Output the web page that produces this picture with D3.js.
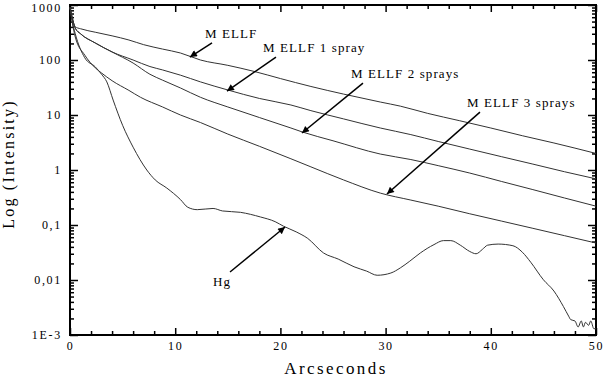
<html>
<head>
<script src="https://d3js.org/d3.v7.min.js"></script>
<style>
  body { margin: 0; background: white; }
  svg { display: block; }
  text { font-family: "Liberation Serif", "Times New Roman", serif; fill: #000; }
</style>
</head>
<body>
<svg width="604" height="378"></svg>
<script>
// data: [arcseconds, intensity]
var mellf = [[0,900],[0.2,600],[0.5,400],[1,370],[2.4,320],[4,275],[5.6,231],[7,190],[8.8,158],[10.5,134],
  [12.4,100],[15,80],[17.5,62],[20,46],[22.9,33],[26,24],[29.5,17.2],[31.4,14.5],[34,10.7],[37,7.9],
  [40,5.8],[43,4.2],[46,3.1],[48,2.5],[50,2.0]];
var spray1 = [[0,900],[0.2,600],[0.5,380],[1,300],[2.4,204],[4,140],[6,100],[7.6,76],[8.8,66],[10.5,53],
  [12.4,40],[15,28.5],[18,20],[21,15.2],[22.9,12],[26,8.5],[29.5,5.8],[32.4,4.4],[35,3.3],[38,2.4],
  [41,1.75],[44,1.28],[47,0.93],[50,0.69]];
var spray2 = [[0,900],[0.2,600],[0.5,380],[1,300],[2.4,204],[4,140],[6,88],[7.6,55],[8.8,43],[10.5,31],
  [12.4,21],[15,14],[18,9],[21,5.8],[22.1,4.9],[25,3.4],[29.5,1.95],[32.4,1.55],[35,1.2],[38,0.88],
  [41,0.62],[44,0.44],[47,0.31],[50,0.22]];
var spray3 = [[0,900],[0.2,500],[0.5,262],[1.4,123],[2.4,72],[3,58],[4,42],[5.6,28],[6.7,21],[8.8,14],
  [10.5,10],[12.4,7.3],[15,4.5],[18,2.7],[21,1.6],[22.9,1.14],[26,0.66],[29.5,0.38],[32.4,0.284],
  [35,0.22],[38,0.16],[41,0.118],[44,0.087],[47,0.064],[50,0.047]];
var hg = [[0,900],[0.2,520],[0.5,300],[1.4,110],[2.4,75],[3,55],[3.5,40],[4.1,18.7],[5,6.5],[6,2.6],
  [7.3,1.0],[8.1,0.66],[9.2,0.47],[10.5,0.29],[11.2,0.21],[12.1,0.19],[13.6,0.2],[14.5,0.18],[16.2,0.17],
  [18.1,0.14],[19.5,0.115],[20.3,0.095],[21.5,0.075],[22.6,0.057],[24.1,0.031],[25.5,0.024],[27,0.0174],
  [28.2,0.0145],[29.2,0.0122],[30.5,0.0134],[31.4,0.0166],[32.3,0.022],[33.3,0.031],[34.6,0.044],
  [35.5,0.052],[36.2,0.052],[37.1,0.043],[38,0.033],[38.6,0.030],[39.2,0.036],[39.7,0.043],[40.7,0.045],
  [42.1,0.042],[43,0.032],[43.8,0.021],[45,0.0101],[46,0.0063],[46.9,0.0033],[47.4,0.0022],[47.6,0.0019],
  [48,0.0018],[48.3,0.0014],[48.6,0.0018],[48.8,0.0014],[49,0.0017],[49.3,0.0015],[49.5,0.0018],
  [49.8,0.0013],[50,0.0013]];

var xTicks = [0,10,20,30,40,50];
var yTicks = [1e-3,0.01,0.1,1,10,100,1000];
var yTickLabels = ["1E-3","0,01","0,1","1","10","100","1000"];

// labels: text, text anchor point [arcsec, intensity], arrow start, arrow tip
var labels = [
  {name:"M ELLF",          at:[12.83,251],    from:[13.5,204],  to:[11.4,113]},
  {name:"M ELLF 1 spray",  at:[18.35,140],    from:[19.58,113], to:[14.92,27.3]},
  {name:"M ELLF 2 sprays", at:[26.7,47],      from:[27.85,38],  to:[22.05,4.7]},
  {name:"M ELLF 3 sprays", at:[37.74,14],     from:[38.97,11.3],to:[30.13,0.366]},
  {name:"Hg",              at:[13.6,0.0078],  from:[15.21,0.014], to:[20.44,0.092]}
];

function draw() {
var svg = d3.select("svg");
var mLeft = 70, mRight = 596, mTop = 5, mBottom = 335;

var x = d3.scaleLinear().domain([0,50]).range([mLeft,mRight]);
var y = d3.scaleLog().domain([1e-3,1000]).range([mBottom,mTop]);

var minorX = d3.range(0,51,2).filter(function(d){ return d % 10 != 0; });
var minorY = [];
yTicks.slice(0,-1).forEach(function(d){ for (var k=2;k<10;k++) minorY.push(d*k); });

function axisStyle(g){
  g.select(".domain").remove();
  g.selectAll("line").attr("stroke","#000").attr("stroke-width",1.5);
  g.selectAll("text").style("font-size","12px").style("letter-spacing","1.7px");
}

// bottom
svg.append("g").attr("transform","translate(0,"+mBottom+")")
  .call(d3.axisBottom(x).tickValues(xTicks).tickSize(-7).tickPadding(6).tickFormat(d3.format("d")))
  .call(axisStyle);
svg.append("g").attr("transform","translate(0,"+mBottom+")")
  .call(d3.axisBottom(x).tickValues(minorX).tickSize(-4).tickFormat(""))
  .call(axisStyle);
// top
svg.append("g").attr("transform","translate(0,"+mTop+")")
  .call(d3.axisTop(x).tickValues(xTicks).tickSize(-7).tickFormat(""))
  .call(axisStyle);
svg.append("g").attr("transform","translate(0,"+mTop+")")
  .call(d3.axisTop(x).tickValues(minorX).tickSize(-4).tickFormat(""))
  .call(axisStyle);
// left
var yAxisG = svg.append("g").attr("transform","translate("+mLeft+",0)")
  .call(d3.axisLeft(y).tickValues(yTicks).tickSize(-8).tickPadding(8)
    .tickFormat(function(d,i){ return yTickLabels[i]; }))
  .call(axisStyle);
// top label sits on the frame edge, nudge it down a bit so it stays inside
yAxisG.selectAll(".tick").filter(function(d){ return d == 1000; })
  .select("text").attr("dy","0.55em");
svg.append("g").attr("transform","translate("+mLeft+",0)")
  .call(d3.axisLeft(y).tickValues(minorY).tickSize(-4).tickFormat(""))
  .call(axisStyle);
// right
svg.append("g").attr("transform","translate("+mRight+",0)")
  .call(d3.axisRight(y).tickValues(yTicks).tickSize(-8).tickFormat(""))
  .call(axisStyle);
svg.append("g").attr("transform","translate("+mRight+",0)")
  .call(d3.axisRight(y).tickValues(minorY).tickSize(-4).tickFormat(""))
  .call(axisStyle);

// frame
svg.append("rect")
  .attr("x",mLeft).attr("y",mTop)
  .attr("width",mRight-mLeft).attr("height",mBottom-mTop)
  .attr("fill","none").attr("stroke","#000").attr("stroke-width",2);

// curves
var line = d3.line()
  .x(function(d){ return x(d[0]); })
  .y(function(d){ return y(d[1]); })
  .curve(d3.curveMonotoneX);

svg.append("g").selectAll("path")
  .data([mellf,spray1,spray2,spray3,hg]).enter().append("path")
  .attr("d", line)
  .attr("fill","none")
  .attr("stroke","#333")
  .attr("stroke-width",1);

// arrow head
svg.append("defs").append("marker")
  .attr("id","head")
  .attr("viewBox","0 0 10 10")
  .attr("refX",10).attr("refY",5)
  .attr("markerWidth",11).attr("markerHeight",7)
  .attr("markerUnits","userSpaceOnUse")
  .attr("orient","auto")
  .append("path").attr("d","M0,0 L10,5 L0,10 Z").attr("fill","#000");

var lab = svg.append("g");
lab.selectAll("line").data(labels).enter().append("line")
  .attr("x1",function(d){ return x(d.from[0]); })
  .attr("y1",function(d){ return y(d.from[1]); })
  .attr("x2",function(d){ return x(d.to[0]); })
  .attr("y2",function(d){ return y(d.to[1]); })
  .attr("stroke","#000").attr("stroke-width",1.5)
  .attr("marker-end","url(#head)");

lab.selectAll("text").data(labels).enter().append("text")
  .attr("x",function(d){ return x(d.at[0]); })
  .attr("y",function(d){ return y(d.at[1]); })
  .style("font-size","13px")
  .style("letter-spacing","1.1px")
  .text(function(d){ return d.name; });

// axis titles
svg.append("text")
  .attr("x",336).attr("y",374)
  .attr("text-anchor","middle")
  .style("font-size","17px")
  .style("letter-spacing","2.4px")
  .text("Arcseconds");

svg.append("text")
  .attr("transform","translate(14,164) rotate(-90)")
  .attr("text-anchor","middle")
  .style("font-size","16px")
  .style("letter-spacing","2.2px")
  .text("Log (Intensity)");
}
draw();
</script>
</body>
</html>
